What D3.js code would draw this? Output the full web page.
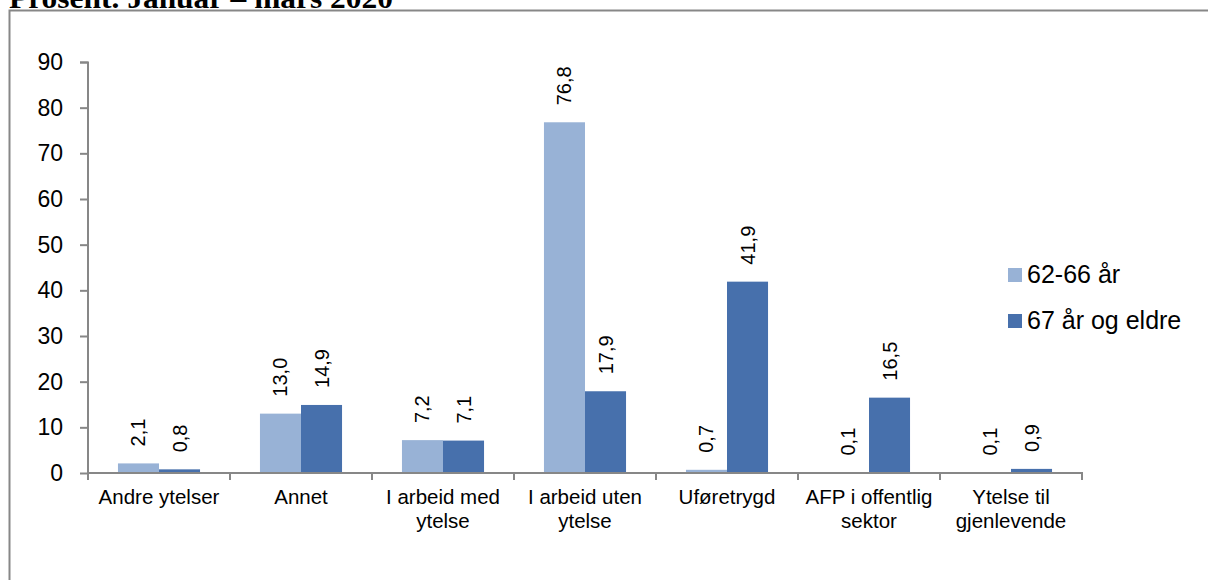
<!DOCTYPE html>
<html><head><meta charset="utf-8">
<script src="https://cdn.jsdelivr.net/npm/d3@7"></script>
<style>
html,body{margin:0;padding:0;background:#fff;overflow:hidden}
svg{display:block}
text{font-family:"Liberation Sans",Arial,sans-serif;fill:#000}
</style></head>
<body>
<svg id="chart" width="1208" height="580"></svg>
<script>
const title = "Prosent. Januar – mars 2020";
const categories = ["Andre ytelser","Annet","I arbeid med\nytelse","I arbeid uten\nytelse","Uføretrygd","AFP i offentlig\nsektor","Ytelse til\ngjenlevende"];
const seriesNames = ["62-66 år","67 år og eldre"];
const values6266 = [2.1,13.0,7.2,76.8,0.7,0.1,0.1];
const values67 = [0.8,14.9,7.1,17.9,41.9,16.5,0.9];
const yTicks = [0,10,20,30,40,50,60,70,80,90];
const colors = ["#98B2D6","#4770AC"];

const seriesValues = [values6266, values67];
const svg = d3.select("#chart");
const axisColor = "#878787";

// title (cut off at top)
svg.append("text").attr("x",9).attr("y",8)
  .attr("font-family","'Liberation Serif','Times New Roman',serif")
  .attr("font-weight","bold").attr("font-size",30)
  .attr("textLength",384).attr("lengthAdjust","spacingAndGlyphs")
  .style("font-family","'Liberation Serif','Times New Roman',serif")
  .text(title);

// frame
svg.append("path").attr("d","M9.5,590 V10.5 H1215")
  .attr("fill","none").attr("stroke",axisColor).attr("stroke-width",2);

const y = d3.scaleLinear().domain([0,90]).range([473,62]);
const x0 = d3.scaleBand().domain(categories).range([88,1082]).padding(0);
const x1 = d3.scaleBand().domain(seriesNames).range([0,x0.bandwidth()]).paddingInner(0).paddingOuter(0.73);

const fmt = v => d3.format(".1f")(v).replace(".",",");

// bars
const groups = svg.append("g").selectAll("g").data(categories).join("g")
  .attr("transform", d => `translate(${x0(d)},0)`);
groups.each(function(cat, ci){
  const g = d3.select(this);
  seriesNames.forEach((s, si) => {
    const v = seriesValues[si][ci];
    g.append("rect").attr("x", x1(s)).attr("width", x1.bandwidth())
      .attr("y", y(v)).attr("height", y(0)-y(v)).attr("fill", colors[si]);
    const cx = x1(s) + x1.bandwidth()/2;
    g.append("text").attr("transform", `translate(${cx+7},${y(v)-17}) rotate(-90)`)
      .attr("font-size",20).attr("text-anchor","start").text(fmt(v));
  });
});

// y axis
const yAxis = d3.axisLeft(y).tickValues(yTicks).tickSize(8).tickPadding(17).tickFormat(d3.format("d"));
const ya = svg.append("g").attr("transform","translate(88,0)").call(yAxis);
ya.select(".domain").attr("stroke",axisColor).attr("stroke-width",2).attr("d","M-8,62.5H0V473");
ya.selectAll(".tick line").attr("stroke",axisColor).attr("stroke-width",2);
ya.selectAll(".tick text").attr("font-size",23).attr("font-family","'Liberation Sans',Arial,sans-serif").attr("fill","#000");

// x axis
svg.append("line").attr("x1",87).attr("x2",1083).attr("y1",473).attr("y2",473)
  .attr("stroke",axisColor).attr("stroke-width",2);
const boundaries = categories.map(c => x0(c)).concat([x0(categories[categories.length-1]) + x0.bandwidth()]);
svg.append("g").selectAll("line").data(boundaries).join("line")
  .attr("x1",d=>d).attr("x2",d=>d).attr("y1",473).attr("y2",480)
  .attr("stroke",axisColor).attr("stroke-width",2);

// category labels
svg.append("g").selectAll("text").data(categories).join("text")
  .attr("x", d => x0(d) + x0.bandwidth()/2).attr("y",504)
  .attr("text-anchor","middle").attr("font-size",20.5)
  .each(function(d){
    const t = d3.select(this);
    d.split("\n").forEach((line,i) => {
      t.append("tspan").attr("x", x0(d) + x0.bandwidth()/2).attr("dy", i===0?0:24).text(line);
    });
  });

// legend
const legend = svg.append("g").selectAll("g").data(seriesNames).join("g")
  .attr("transform",(d,i)=>`translate(1008,${268 + i*46})`);
legend.append("rect").attr("width",14).attr("height",14).attr("fill",(d,i)=>colors[i]);
legend.append("text").attr("x",19).attr("y",15).attr("font-size",25).text(d=>d);
</script>
</body></html>
